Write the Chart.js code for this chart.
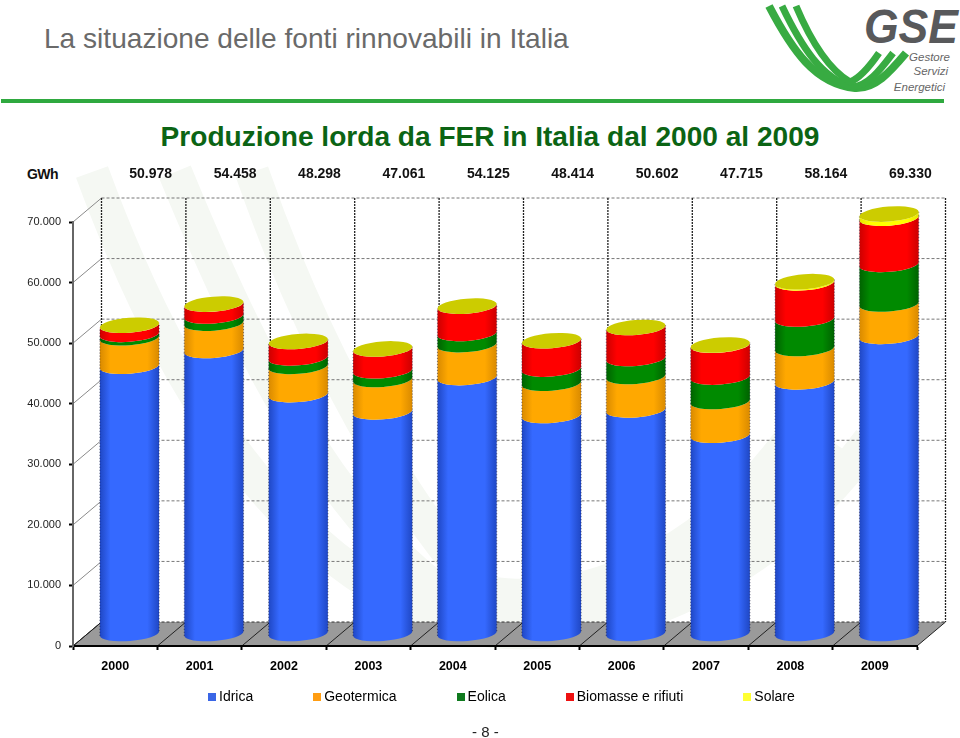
<!DOCTYPE html>
<html lang="it">
<head>
<meta charset="utf-8">
<title>Produzione lorda da FER in Italia dal 2000 al 2009</title>
<script src="https://cdn.jsdelivr.net/npm/chart.js@4"></script>
<style>
  html, body { margin: 0; padding: 0; background: #fff; }
  body { position: relative; width: 960px; height: 738px; overflow: hidden; font-family: "Liberation Sans", Arial, sans-serif; }
  .abs { position: absolute; white-space: nowrap; }
  #header { left: 44px; top: 23px; font-size: 28.1px; line-height: 32px; color: #6a6a6a; }
  #rule { left: 1px; top: 99px; width: 943px; height: 4px; background: #2fa93f; }
  #title { left: 0; width: 980px; top: 122px; text-align: center; font-size: 28.1px; line-height: 30px; font-weight: bold; color: #0b6414; }
  #unit { left: 27px; top: 166px; font-size: 14px; line-height: 16px; font-weight: bold; color: #111; letter-spacing: -0.6px; }
  #page { left: 472px; top: 723px; font-size: 15px; line-height: 18px; color: #222; }
  #legend { left: 208px; top: 688px; display: flex; gap: 60px; font-size: 14px; line-height: 17px; color: #000; }
  #legend span.item { display: flex; align-items: center; gap: 3px; }
  #legend i { display: block; width: 8px; height: 8px; }
  svg { position: absolute; left: 0; top: 0; }
  canvas { position: absolute; left: 0; top: 0; }
</style>
</head>
<body>
<!-- watermark behind the chart -->
<svg width="960" height="738" fill="none" stroke="#f5f8f3" stroke-width="34">
  <path d="M92 172 C150 330 260 570 470 628 C600 650 760 590 870 440"/>
  <path d="M175 172 C240 330 330 530 470 612 C600 632 740 570 830 440"/>
  <path d="M252 172 C300 310 380 480 482 592 C590 612 710 550 790 440"/>
</svg>
<!-- GSE logo -->
<svg width="960" height="100" fill="none" stroke="#38ab42">
  <path stroke-width="8" d="M769 6 C792 50 815 84 855 88 C875 89 890 72 906 53"/>
  <path stroke-width="7" d="M782 6 C802 48 822 78 852 87 C868 86 880 70 893 53"/>
  <path stroke-width="7" d="M796 6 C812 44 830 70 850 82 C860 78 870 66 879 53"/>
  <text x="864" y="43" font-family="Liberation Sans" font-size="48" font-weight="bold" font-style="italic" fill="#58595b" stroke="none" textLength="94" lengthAdjust="spacingAndGlyphs">GSE</text>
  <g font-family="Liberation Sans" font-size="11.5" font-style="italic" fill="#666" stroke="none" text-anchor="end">
    <text x="950" y="61">Gestore</text>
    <text x="948" y="75">Servizi</text>
    <text x="945" y="91">Energetici</text>
  </g>
</svg>
<div class="abs" id="header">La situazione delle fonti rinnovabili in Italia</div>
<div class="abs" id="rule"></div>
<div class="abs" id="title">Produzione lorda da FER in Italia dal 2000 al 2009</div>
<div class="abs" id="unit">GWh</div>
<canvas id="chart" width="960" height="738"></canvas>
<div class="abs" id="legend"></div>
<div class="abs" id="page">- 8 -</div>

<script>
// Data (GWh)
const years = ['2000', '2001', '2002', '2003', '2004', '2005', '2006', '2007', '2008', '2009'];
const totals = [50978, 54458, 48298, 47061, 54125, 48414, 50602, 47715, 58164, 69330];
const idrica = [44205, 46810, 39519, 36670, 42338, 36067, 36994, 32815, 41623, 49137];
const geotermica = [4705, 4507, 4662, 5341, 5437, 5325, 5527, 5569, 5520, 5342];
const eolica = [563, 1179, 1404, 1458, 1847, 2343, 2971, 4034, 4861, 6543];
const biomasse = [1499, 1957, 2709, 3587, 4499, 4675, 5108, 5258, 5967, 7632];
const solare = [6, 5, 4, 5, 4, 4, 2, 39, 193, 676];

const seriesNames = ['Idrica', 'Geotermica', 'Eolica', 'Biomasse e rifiuti', 'Solare'];
const seriesValues = [idrica, geotermica, eolica, biomasse, solare];
const legendColors = ['#3a66e6', '#ff9d12', '#0f7a1e', '#ee1111', '#ffff33'];
// [edge, centre] of the cylinder shading
const shades = [['#1f47c4', '#3569ff'], ['#d98a00', '#ffa800'], ['#006200', '#008a00'], ['#cc0000', '#ff0000'], ['#e6e600', '#ffff00']];
const topColor = '#cccc00';

// 3D look: depth of the back wall and of the bars, in pixels
const DEPTH_X = 28.5, DEPTH_Y = 24;
const BAR_DX = 14.3, BAR_DY = 12;
const RY = 7.5, ROT = -4.5 * Math.PI / 180;

const fmt = v => String(v).replace(/\B(?=(\d{3})+$)/g, '.');

// Back wall, side wall and floor behind the bars
const wallPlugin = {
  id: 'wall',
  beforeDraw(chart) {
    const { ctx, chartArea: a, scales: { x, y } } = chart;
    ctx.save();
    // floor
    ctx.fillStyle = '#9a9a9a';
    ctx.beginPath();
    ctx.moveTo(a.left, a.bottom);
    ctx.lineTo(a.right, a.bottom);
    ctx.lineTo(a.right + DEPTH_X, a.bottom - DEPTH_Y);
    ctx.lineTo(a.left + DEPTH_X, a.bottom - DEPTH_Y);
    ctx.closePath();
    ctx.fill();
    // horizontal grid on side and back wall
    y.ticks.forEach(t => {
      const py = y.getPixelForValue(t.value);
      ctx.lineWidth = 1;
      ctx.setLineDash([]);
      ctx.strokeStyle = t.value === 0 ? '#222' : '#8a8a8a';
      ctx.beginPath();
      ctx.moveTo(a.left, py);
      ctx.lineTo(a.left + DEPTH_X, py - DEPTH_Y);
      ctx.stroke();
      ctx.setLineDash([3, 2]);
      ctx.strokeStyle = t.value === 0 ? '#333' : '#777';
      ctx.beginPath();
      ctx.moveTo(a.left + DEPTH_X, py - DEPTH_Y);
      ctx.lineTo(a.right + DEPTH_X, py - DEPTH_Y);
      ctx.stroke();
    });
    // vertical grid on the back wall and the floor diagonals
    const step = (a.right - a.left) / years.length;
    for (let i = 0; i <= years.length; i++) {
      const px = a.left + i * step;
      ctx.strokeStyle = '#222';
      ctx.lineWidth = 1.3;
      ctx.setLineDash([2, 1]);
      ctx.beginPath();
      ctx.moveTo(px + DEPTH_X, y.getPixelForValue(70000) - DEPTH_Y);
      ctx.lineTo(px + DEPTH_X, a.bottom - DEPTH_Y);
      ctx.stroke();
      ctx.setLineDash([]);
      ctx.lineWidth = 1;
      ctx.beginPath();
      ctx.moveTo(px, a.bottom);
      ctx.lineTo(px + DEPTH_X, a.bottom - DEPTH_Y);
      ctx.stroke();
    }
    ctx.restore();
  }
};

function sidePath(ctx, cx, yLow, yHigh, rx) {
  ctx.beginPath();
  ctx.ellipse(cx, yLow, rx, RY, ROT, 0, Math.PI);
  ctx.ellipse(cx, yHigh, rx, RY, ROT, Math.PI, 0, true);
  ctx.closePath();
}

// Bars drawn as cylinders from the elements the bar controller has laid out
const cylinderPlugin = {
  id: 'cylinder',
  beforeDatasetsDraw(chart) {
    const { ctx } = chart;
    const count = chart.data.datasets.length;
    ctx.save();
    years.forEach((_, i) => {
      let last = null;
      for (let d = 0; d < count; d++) {
        const bar = chart.getDatasetMeta(d).data[i];
        const cx = bar.x + BAR_DX, rx = bar.width / 2;
        const yLow = bar.base - BAR_DY, yHigh = bar.y - BAR_DY;
        const g = ctx.createLinearGradient(cx - rx, 0, cx + rx, 0);
        g.addColorStop(0, shades[d][0]);
        g.addColorStop(0.18, shades[d][1]);
        g.addColorStop(0.8, shades[d][1]);
        g.addColorStop(1, shades[d][0]);
        ctx.fillStyle = g;
        sidePath(ctx, cx, yLow, yHigh, rx);
        ctx.fill();
        // rough dark edge along the sides
        const dy = rx * Math.sin(ROT);
        ctx.strokeStyle = 'rgba(0,0,40,0.55)';
        ctx.lineWidth = 1;
        ctx.setLineDash([1, 2]);
        ctx.beginPath();
        ctx.moveTo(cx - rx, yLow - dy);
        ctx.lineTo(cx - rx, yHigh - dy);
        ctx.moveTo(cx + rx, yLow + dy);
        ctx.lineTo(cx + rx, yHigh + dy);
        ctx.stroke();
        ctx.setLineDash([]);
        last = { cx, rx, yHigh };
      }
      ctx.fillStyle = topColor;
      ctx.beginPath();
      ctx.ellipse(last.cx, last.yHigh, last.rx, RY, ROT, 0, Math.PI * 2);
      ctx.fill();
    });
    ctx.restore();
    return false;
  }
};

// Row of yearly totals above the plot
const totalsPlugin = {
  id: 'totals',
  afterDraw(chart) {
    const { ctx, scales: { x } } = chart;
    ctx.save();
    ctx.font = 'bold 14px "Liberation Sans"';
    ctx.fillStyle = '#111';
    ctx.textAlign = 'center';
    ctx.textBaseline = 'middle';
    totals.forEach((v, i) => ctx.fillText(fmt(v), x.getPixelForTick(i) + 35.5, 174));
    ctx.restore();
  }
};

new Chart(document.getElementById('chart'), {
  type: 'bar',
  data: {
    labels: years,
    datasets: seriesNames.map((name, i) => ({
      label: name,
      data: seriesValues[i],
      backgroundColor: legendColors[i],
      categoryPercentage: 1,
      barPercentage: 0.703
    }))
  },
  plugins: [wallPlugin, cylinderPlugin, totalsPlugin],
  options: {
    responsive: false,
    animation: false,
    layout: { autoPadding: false, padding: { left: 0, right: 43, top: 222, bottom: 0 } },
    plugins: { legend: { display: false }, title: { display: false }, tooltip: { enabled: false } },
    scales: {
      x: {
        stacked: true,
        afterFit(s) { s.height = 92; },
        border: { color: '#000', width: 2, dash: [2, 1] },
        grid: { drawOnChartArea: false, tickColor: '#000', tickLength: 4, tickWidth: 2 },
        ticks: { padding: 9, color: '#000', maxRotation: 0, autoSkip: false, font: { size: 12.5, weight: 'bold', family: '"Liberation Sans"' } }
      },
      y: {
        stacked: true,
        min: 0,
        max: 70000,
        afterFit(s) { s.width = 73; },
        border: { color: '#666', width: 2 },
        grid: { drawOnChartArea: false, tickColor: '#000', tickLength: 4, tickWidth: 2 },
        ticks: { stepSize: 10000, padding: 8, color: '#222', callback: v => fmt(v), font: { size: 11, family: '"Liberation Sans"' } }
      }
    }
  }
});

// Legend row
const legendBox = document.getElementById('legend');
seriesNames.forEach((name, i) => {
  const item = document.createElement('span');
  item.className = 'item';
  const sw = document.createElement('i');
  sw.style.background = legendColors[i];
  item.appendChild(sw);
  item.appendChild(document.createTextNode(name));
  legendBox.appendChild(item);
});
</script>
</body>
</html>
